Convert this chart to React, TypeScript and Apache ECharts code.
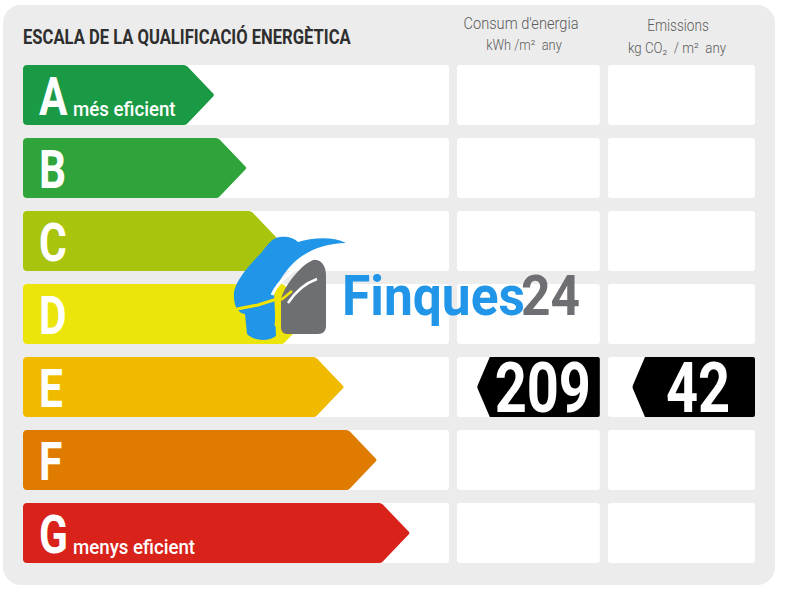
import React, { useEffect, useRef } from 'react';
import * as echarts from 'echarts';

// ---- data ----
const ratings = ['A', 'B', 'C', 'D', 'E', 'F', 'G'];
const ratingNotes = ['més eficient', '', '', '', '', '', 'menys eficient'];
// arrow reach, in percent of the table width
const arrowReach = [26.2, 30.6, 35.1, 39.5, 43.9, 48.4, 52.9];
const ratingColors = ['#1b9a45', '#2ea43a', '#a8c40d', '#ebe50c', '#efba00', '#df7c00', '#d8221a'];
const energyRating = 'E';
const energyValue = 209;
const emissionsRating = 'E';
const emissionsValue = 42;
const titleText = 'ESCALA DE LA QUALIFICACIÓ ENERGÈTICA';
const energyHeader = ["Consum d'energia", 'kWh /m²  any'];
const emissionsHeader = ['Emissions', 'kg CO₂  / m²  any'];
const brandName = ['Finques', '24'];

// ---- layout (percent of table width) ----
const COLS: number[][] = [[0, 58.2], [59.3, 78.8], [79.9, 100]];
const CELL_RATIO = 60 / 73;

const blueD =
  'M234 292 C236 280 250 264 262 252 C268 244 272 238 280 237 C288 236 294 238 298 242 C312 238 332 236 346 243 C330 243 314 248 302 256 C290 264 280 278 274 292 L276 336 C268 342 254 341 247 334 L245 314 C238 313 233 306 234 292 Z';
const greyD =
  'M281 300 C283 288 296 272 306 264 C312 258 320 258 324 266 C326 270 326 274 326 278 L326 326 C326 331 323 334 318 334 L287 334 C283 334 281 331 281 327 Z';

let registered = false;
function registerShapes() {
  if (registered) return;
  registered = true;
  echarts.graphic.registerShape('logoBlue', echarts.graphic.extendPath(blueD, {}));
  echarts.graphic.registerShape('logoGrey', echarts.graphic.extendPath(greyD, {}));
}

function txt(text: string, x: number, y: number, font: string, fill: string, align: string, scaleX: number, z = 5): any {
  return {
    type: 'text',
    x,
    y,
    scaleX,
    z,
    style: {
      text,
      font,
      fill,
      align,
      verticalAlign: 'middle',
      textAlign: align,
      textVerticalAlign: 'middle',
    },
  };
}

export default function App() {
  const ref = useRef<HTMLDivElement>(null);
  useEffect(() => {
    if (!ref.current) return;
    registerShapes();
    const chart = echarts.init(ref.current, null, { renderer: 'svg' });

    const cellsData = ratings.map((_, i) => [0, i]);
    const arrowData = arrowReach.map((v, i) => [v, i]);
    const markerData = [
      [1, ratings.indexOf(energyRating), energyValue],
      [2, ratings.indexOf(emissionsRating), emissionsValue],
    ];

    const option: any = {
      animation: false,
      backgroundColor: '#ffffff',
      grid: { left: 23, right: 31, top: 58.5, bottom: 30.5 },
      xAxis: { type: 'value', min: 0, max: 100, show: false },
      yAxis: { type: 'category', data: ratings, inverse: true, show: false },
      graphic: [
        {
          type: 'rect',
          z: 0,
          shape: { x: 3, y: 5, width: 772, height: 580, r: 18 },
          style: { fill: '#ececec' },
        },
        txt(titleText, 23, 36.5, 'bold 20px Roboto', '#2e2e2e', 'left', 0.83),
        txt(energyHeader[0], 521, 23.5, '300 17px Roboto', '#5a5a5a', 'center', 0.86),
        txt(energyHeader[1], 524, 45.5, '300 14px Roboto', '#5a5a5a', 'center', 0.92),
        txt(emissionsHeader[0], 678, 25, '300 17px Roboto', '#5a5a5a', 'center', 0.8),
        txt(emissionsHeader[1], 677, 48, '300 14px Roboto', '#5a5a5a', 'center', 0.95),
        // logo watermark
        { type: 'logoBlue', z: 20, style: { fill: '#2196e8' } },
        { type: 'logoGrey', z: 21, style: { fill: '#6e6f73' } },
        {
          type: 'bezierCurve', z: 22,
          shape: { x1: 272, y1: 295, cpx1: 284, cpy1: 268, x2: 340, y2: 246 },
          style: { stroke: '#ffffff', lineWidth: 3, fill: 'none' },
        },
        {
          type: 'bezierCurve', z: 22,
          shape: { x1: 288, y1: 303, cpx1: 300, cpy1: 285, x2: 317, y2: 279 },
          style: { stroke: '#ffffff', lineWidth: 2.5, fill: 'none' },
        },
        {
          type: 'polyline', z: 23,
          shape: { points: [[237, 309], [258, 305], [280, 298]] },
          style: { stroke: '#f2e400', lineWidth: 3, fill: 'none' },
        },
        {
          type: 'line', z: 23,
          shape: { x1: 279, y1: 288, x2: 276, y2: 326 },
          style: { stroke: '#f2e400', lineWidth: 3 },
        },
        {
          type: 'line', z: 23,
          shape: { x1: 281, y1: 300, x2: 292, y2: 291 },
          style: { stroke: '#f2e400', lineWidth: 2.5 },
        },
        txt(brandName[0], 342, 296, 'bold 56px Roboto', '#2196e8', 'left', 0.92, 24),
        txt(brandName[1], 521, 296, 'bold 56px Roboto', '#6e6f73', 'left', 0.92, 24),
      ],
      series: [
        {
          type: 'custom',
          z: 1,
          data: cellsData,
          encode: { x: 0, y: 1 },
          renderItem: (params: any, api: any) => {
            const idx = api.value(1);
            const band = api.size([0, 1])[1];
            const h = band * CELL_RATIO;
            const cy = api.coord([0, idx])[1];
            const top = cy - h / 2;
            return {
              type: 'group',
              children: COLS.map(([a, b]) => {
                const xa = api.coord([a, idx])[0];
                const xb = api.coord([b, idx])[0];
                return {
                  type: 'rect',
                  shape: { x: xa, y: top, width: xb - xa, height: h, r: 3 },
                  style: { fill: '#ffffff' },
                };
              }),
            };
          },
        },
        {
          type: 'custom',
          z: 2,
          data: arrowData,
          encode: { x: 0, y: 1 },
          renderItem: (params: any, api: any) => {
            const idx = api.value(1);
            const band = api.size([0, 1])[1];
            const h = band * CELL_RATIO;
            const [x1, cy] = api.coord([api.value(0), idx]);
            const x0 = api.coord([0, idx])[0];
            const top = cy - h / 2;
            const bot = cy + h / 2;
            const p = 29;
            const xb = x1 - p;
            const r = 4;
            const d =
              `M${x0 + r} ${top} L${xb - 2} ${top} Q${xb} ${top} ${xb + 1.6} ${top + 1.6} ` +
              `L${x1 - 1.6} ${cy - 1.6} Q${x1} ${cy} ${x1 - 1.6} ${cy + 1.6} ` +
              `L${xb + 1.6} ${bot - 1.6} Q${xb} ${bot} ${xb - 2} ${bot} ` +
              `L${x0 + r} ${bot} Q${x0} ${bot} ${x0} ${bot - r} L${x0} ${top + r} Q${x0} ${top} ${x0 + r} ${top} Z`;
            const i = params.dataIndex;
            const children: any[] = [
              { type: 'path', shape: { pathData: d }, style: { fill: ratingColors[i] } },
              txt(ratings[i], x0 + 16, cy + 2, 'bold 53px Roboto', '#ffffff', 'left', 0.8),
            ];
            if (ratingNotes[i]) {
              children.push(txt(ratingNotes[i], x0 + 50, top + 44.5, '500 21px Roboto', '#ffffff', 'left', 0.89));
            }
            return { type: 'group', children };
          },
        },
        {
          type: 'custom',
          z: 3,
          data: markerData,
          encode: { x: 0, y: 1 },
          renderItem: (params: any, api: any) => {
            const col = api.value(0);
            const idx = api.value(1);
            const val = api.value(2);
            const band = api.size([0, 1])[1];
            const h = band * CELL_RATIO;
            const [right, cy] = api.coord([COLS[col][1], idx]);
            const tip = right - 123;
            const p = 13;
            const top = cy - h / 2;
            const bot = cy + h / 2;
            const r = 2;
            const d =
              `M${tip + p} ${top} L${right - r} ${top} Q${right} ${top} ${right} ${top + r} ` +
              `L${right} ${bot - r} Q${right} ${bot} ${right - r} ${bot} L${tip + p} ${bot} ` +
              `L${tip + 1} ${cy + 2} Q${tip} ${cy} ${tip + 1} ${cy - 2} Z`;
            return {
              type: 'group',
              children: [
                { type: 'path', shape: { pathData: d }, style: { fill: '#000000' } },
                txt(String(val), (tip + p + right) / 2 - 2, cy + 1, 'bold 70px Roboto', '#ffffff', 'center', 0.8),
              ],
            };
          },
        },
      ],
    };
    chart.setOption(option);
    return () => chart.dispose();
  }, []);
  return (
    <div
      ref={ref}
      style={{ position: 'absolute', left: 0, top: 0, width: 786, height: 600 }}
    />
  );
}
